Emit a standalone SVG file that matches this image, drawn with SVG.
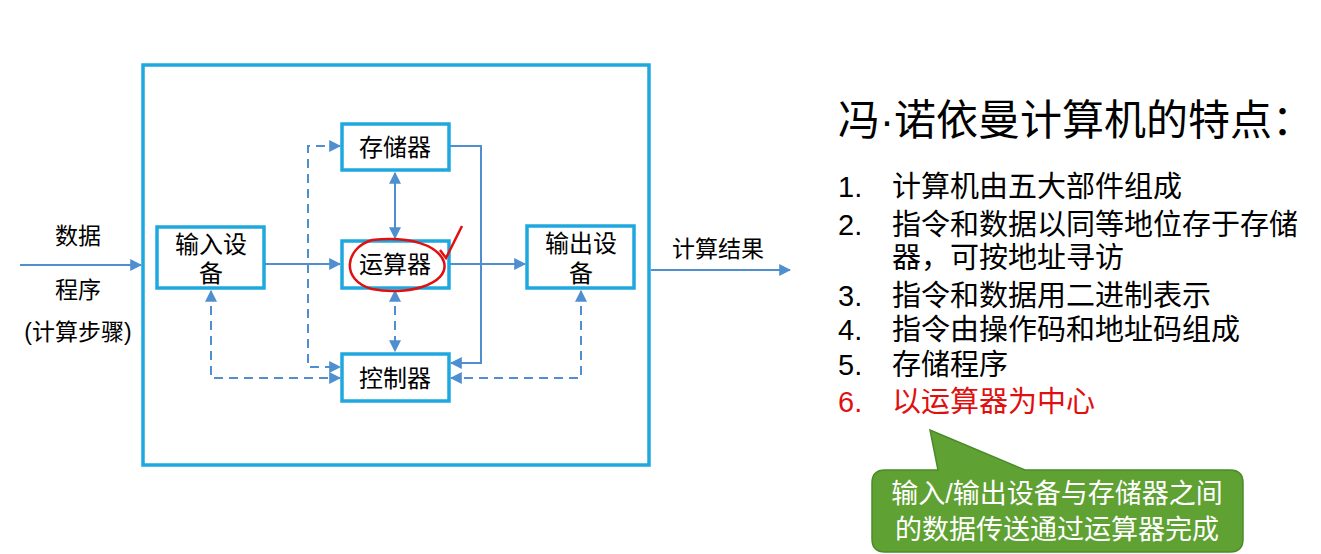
<svg xmlns="http://www.w3.org/2000/svg" width="1321" height="554" viewBox="0 0 1321 554">
<defs>
<style>
.box{fill:#fff;stroke:#1fa8e0;stroke-width:3.5}
.t{font-family:"Liberation Sans","Noto Sans CJK SC",sans-serif;fill:#000}
.n{font-size:24px;text-anchor:middle}
.c{fill:none;stroke:#4f8fd0;stroke-width:2}
.d{stroke-dasharray:9 6}
.li{font-size:29px}
</style>
<marker id="a" viewBox="0 0 10 10" refX="9" refY="5" markerWidth="6" markerHeight="6" orient="auto-start-reverse"><path d="M0,0L10,5L0,10z" fill="#4f8fd0"/></marker>
</defs>
<rect width="1321" height="554" fill="#fff"/>
<rect x="143" y="65" width="506" height="400" fill="none" stroke="#1fa8e0" stroke-width="3.5"/>
<g id="connectors">
<path class="c" d="M20,265H141" marker-end="url(#a)"/>
<path class="c" d="M651,270H790" marker-end="url(#a)"/>
<path class="c" d="M264,264H340" marker-end="url(#a)"/>
<path class="c" d="M449,264H525" marker-end="url(#a)"/>
<path class="c" d="M449,146H481V363H451" marker-end="url(#a)"/>
<path class="c" d="M395,173V238" marker-start="url(#a)" marker-end="url(#a)"/>
<path class="c d" d="M395,291V351" marker-start="url(#a)" marker-end="url(#a)"/>
<path class="c d" d="M340,146H308V367H340" marker-start="url(#a)" marker-end="url(#a)"/>
<path class="c d" d="M211,291V378H340" marker-start="url(#a)" marker-end="url(#a)"/>
<path class="c d" d="M581,291V378H451" marker-start="url(#a)" marker-end="url(#a)"/>
</g>
<g id="mem"><rect class="box" x="342" y="124" width="107" height="46"/><text class="t n" x="395" y="156">存储器</text></g>
<g id="in"><rect class="box" x="157" y="227" width="107" height="61"/><text class="t n" x="211" y="253">输入设</text><text class="t n" x="211" y="282">备</text></g>
<g id="alu"><rect class="box" x="342" y="241" width="107" height="47"/><text class="t n" x="395" y="273">运算器</text></g>
<g id="out"><rect class="box" x="527" y="226" width="107" height="62"/><text class="t n" x="581" y="252">输出设</text><text class="t n" x="581" y="282">备</text></g>
<g id="ctl"><rect class="box" x="342" y="354" width="107" height="47"/><text class="t n" x="395" y="387">控制器</text></g>
<g id="mark" fill="none" stroke="#e01010" stroke-width="2.5">
<path d="M372,240C345,248 340,280 372,289C405,296 450,285 444,262C438,245 410,236 372,240"/>
<path d="M440,250L446,258L462,226"/>
</g>
<g class="t" font-size="23" text-anchor="middle">
<text x="78" y="244">数据</text><text x="78" y="298">程序</text><text x="78" y="340">(计算步骤)</text>
<text x="718" y="257">计算结果</text>
</g>
<g class="t">
<text x="838" y="135" font-size="42">冯·诺依曼计算机的特点：</text>
<g class="li">
<text x="838" y="197">1.</text><text x="892" y="197">计算机由五大部件组成</text>
<text x="838" y="235">2.</text><text x="892" y="235">指令和数据以同等地位存于存储</text>
<text x="892" y="268">器，可按地址寻访</text>
<text x="838" y="306">3.</text><text x="892" y="306">指令和数据用二进制表示</text>
<text x="838" y="340">4.</text><text x="892" y="340">指令由操作码和地址码组成</text>
<text x="838" y="375">5.</text><text x="892" y="375">存储程序</text>
<text x="838" y="412" fill="#e01010">6.</text><text x="892" y="412" fill="#e01010">以运算器为中心</text>
</g>
</g>
<g id="callout">
<path d="M885,470H938L930,430L1025,470H1230Q1243,470 1243,483V539Q1243,552 1230,552H885Q872,552 872,539V483Q872,470 885,470Z" fill="#5fa133" stroke="#4a8a28" stroke-width="1.5"/>
<g class="t" font-size="27" text-anchor="middle" style="fill:#fff"><text x="1057" y="503">输入/输出设备与存储器之间</text><text x="1057" y="539">的数据传送通过运算器完成</text></g>
</g>
</svg>
